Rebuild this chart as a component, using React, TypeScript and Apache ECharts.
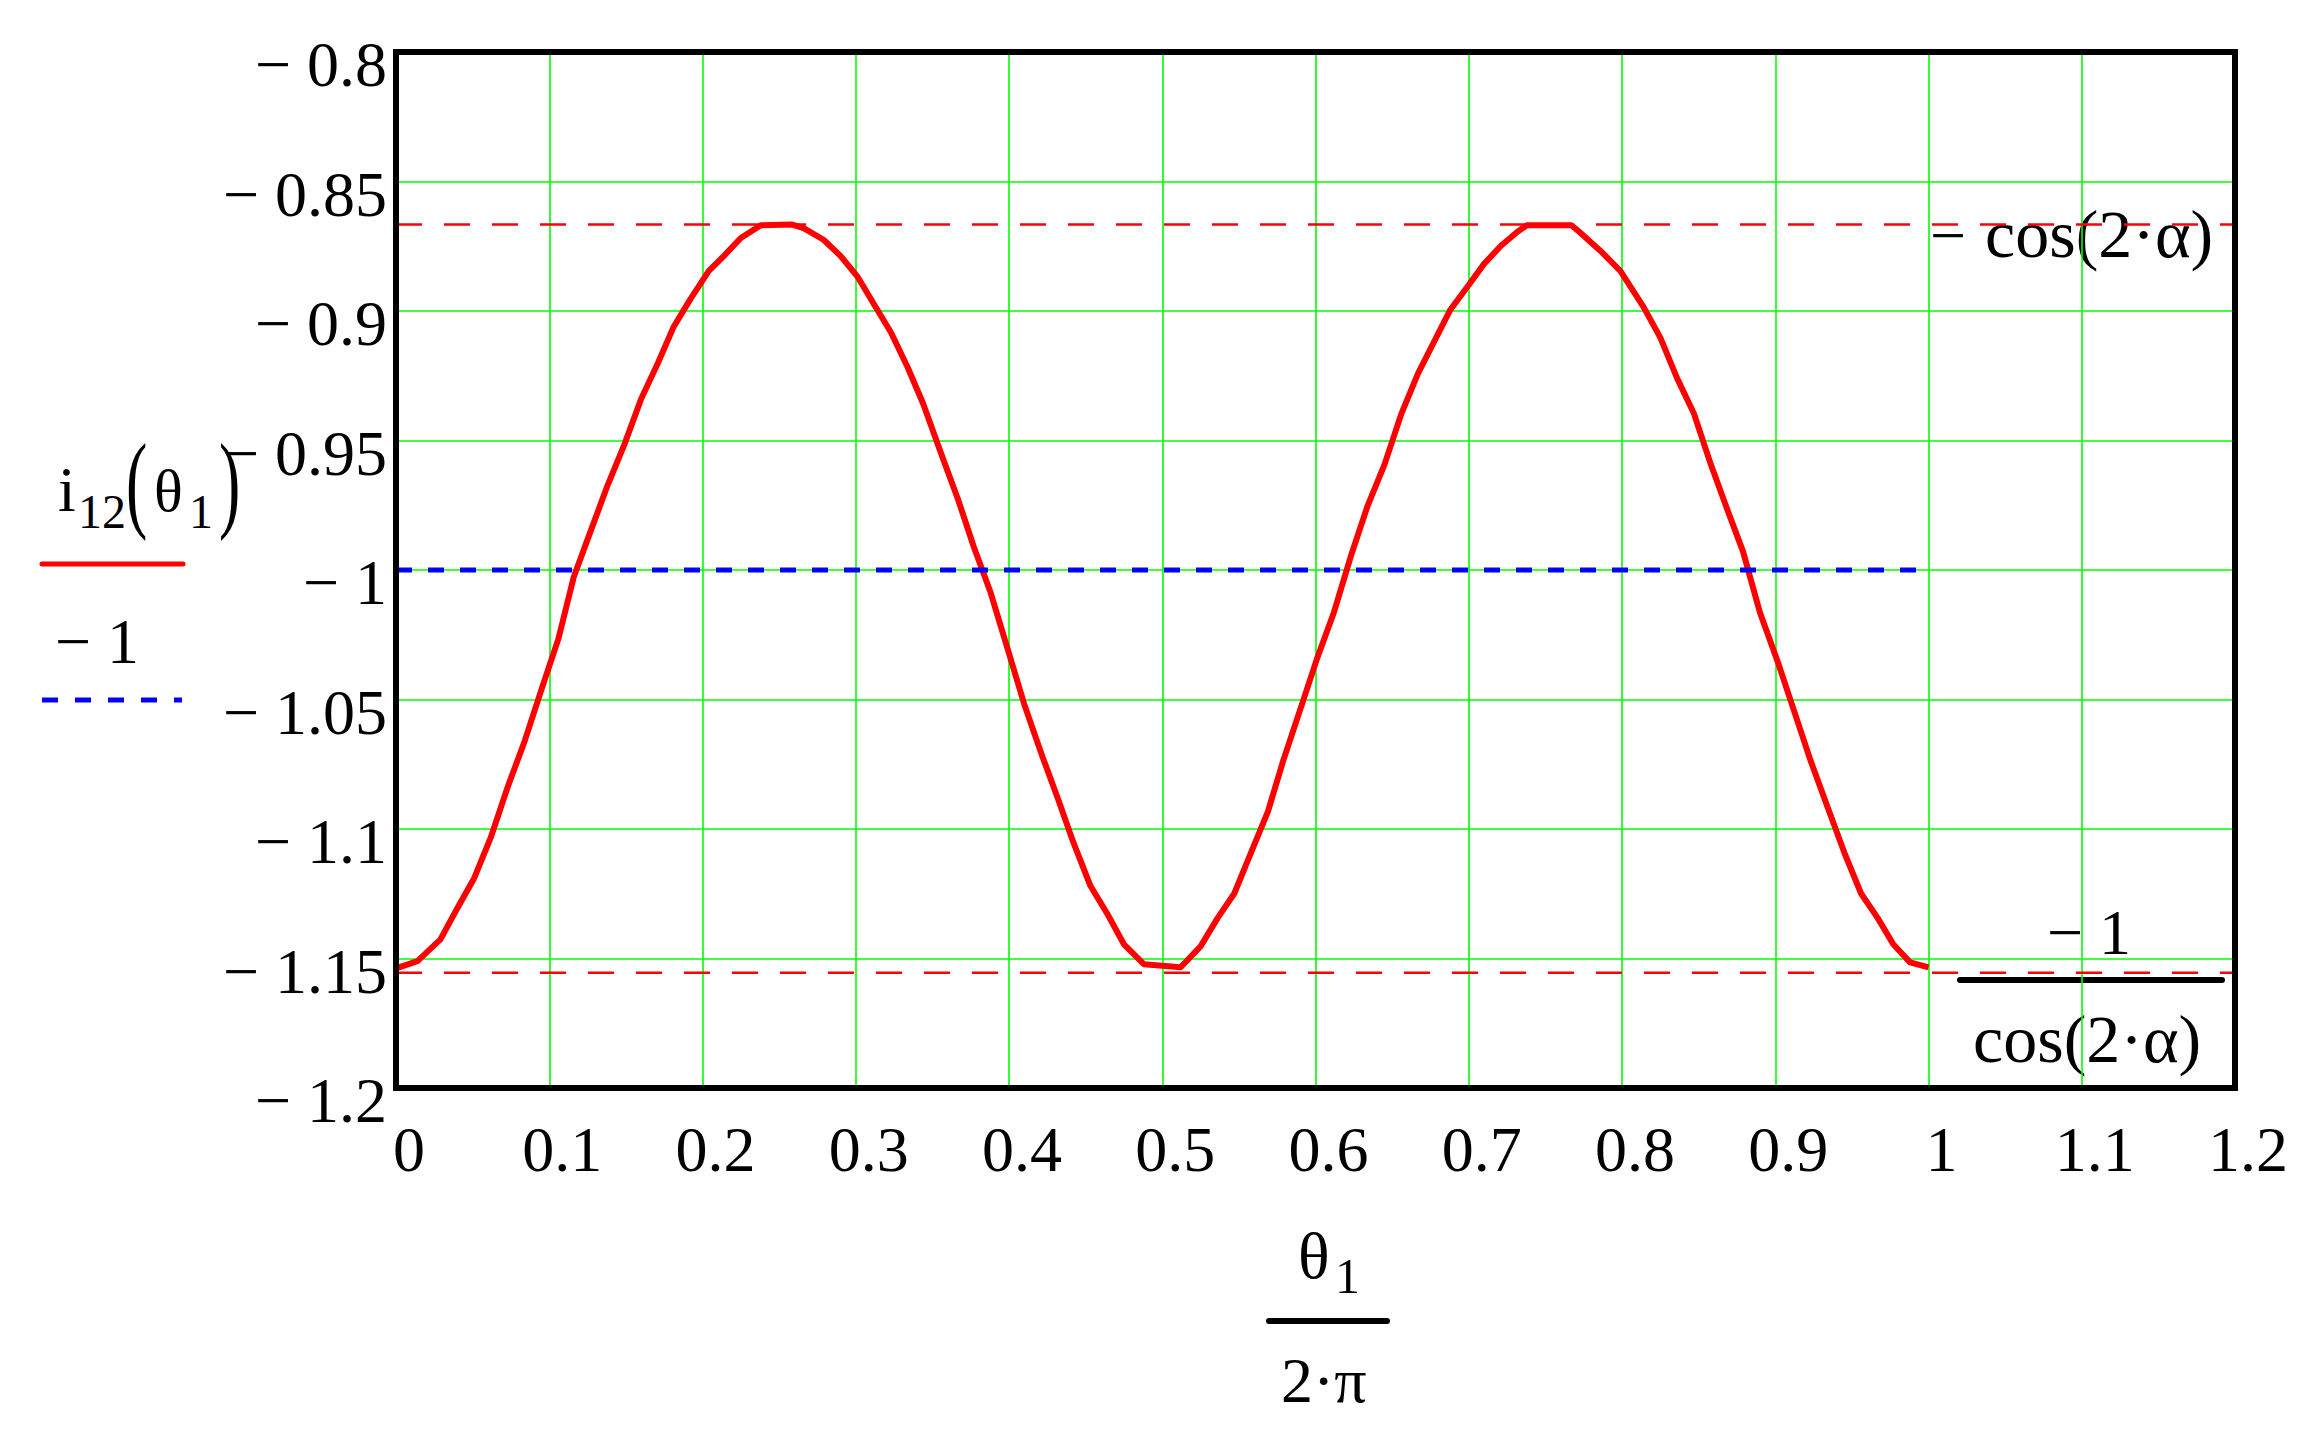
import React, { useEffect, useRef } from "react";
import * as echarts from "echarts";

// θ1 / 2π  (x values)
const thetaX = [
  0.0, 0.014, 0.029, 0.04, 0.051, 0.062, 0.073, 0.084, 0.095, 0.106, 0.116, 0.127, 0.138, 0.149,
  0.16, 0.171, 0.181, 0.192, 0.204, 0.214, 0.225, 0.238, 0.258, 0.266, 0.279, 0.29, 0.301, 0.312,
  0.323, 0.334, 0.344, 0.356, 0.367, 0.377, 0.388, 0.399, 0.41, 0.421, 0.432, 0.442, 0.453, 0.464,
  0.475, 0.488, 0.512, 0.525, 0.536, 0.547, 0.558, 0.569, 0.579, 0.59, 0.601, 0.612, 0.623, 0.634,
  0.645, 0.656, 0.667, 0.677, 0.688, 0.699, 0.71, 0.721, 0.732, 0.738, 0.767, 0.773, 0.786, 0.799,
  0.814, 0.825, 0.836, 0.847, 0.858, 0.869, 0.879, 0.89, 0.902, 0.912, 0.923, 0.934, 0.945, 0.956,
  0.967, 0.977, 0.988, 1.0,
];

// i12(θ1)
const i12Values = [
  -1.1538, -1.151, -1.1426, -1.1306, -1.119, -1.103, -1.0836, -1.066, -1.046, -1.0265, -1.0027,
  -0.985, -0.9674, -0.9516, -0.9339, -0.92, -0.9063, -0.8955, -0.8846, -0.8787, -0.8718, -0.8669,
  -0.8666, -0.868, -0.8725, -0.8787, -0.8866, -0.8975, -0.9083, -0.9219, -0.9358, -0.9555, -0.9732,
  -0.991, -1.0087, -1.0303, -1.0519, -1.0707, -1.0884, -1.1052, -1.1218, -1.1326, -1.1445, -1.1522,
  -1.1534, -1.1453, -1.1345, -1.1249, -1.109, -1.0932, -1.0735, -1.0539, -1.0342, -1.0164, -0.9948,
  -0.9752, -0.9593, -0.9397, -0.924, -0.9123, -0.8995, -0.8907, -0.8818, -0.8748, -0.8693, -0.8669,
  -0.8669, -0.8699, -0.8768, -0.8846, -0.8984, -0.9103, -0.926, -0.9397, -0.9593, -0.9771, -0.9929,
  -1.0164, -1.0361, -1.0539, -1.0735, -1.0913, -1.109, -1.1249, -1.1345, -1.1445, -1.1515, -1.1534,
];

// the constant trace "− 1"
const unityX = [0, 1];
const unityY = [-1, -1];

// bound traces −cos(2·α) and −1/cos(2·α)
const boundX = [0, 1.2];
const upperBound = [-0.8666, -0.8666];
const lowerBound = [-1.1555, -1.1555];

const xTickValues = [0, 0.1, 0.2, 0.3, 0.4, 0.5, 0.6, 0.7, 0.8, 0.9, 1, 1.1, 1.2];
const xTickLabels = ["0", "0.1", "0.2", "0.3", "0.4", "0.5", "0.6", "0.7", "0.8", "0.9", "1", "1.1", "1.2"];
const yTickValues = [-1.2, -1.15, -1.1, -1.05, -1, -0.95, -0.9, -0.85, -0.8];
const yTickLabels = [
  "\u2212 1.2", "\u2212 1.15", "\u2212 1.1", "\u2212 1.05", "\u2212 1",
  "\u2212 0.95", "\u2212 0.9", "\u2212 0.85", "\u2212 0.8",
];

const FONT = "'Liberation Serif', 'Times New Roman', serif";
const GRID = { left: 396, top: 52, width: 1839, height: 1036 };

function nearestLabel(values: number[], labels: string[], v: number) {
  let best = 0;
  for (let i = 1; i < values.length; i++) {
    if (Math.abs(values[i] - v) < Math.abs(values[best] - v)) best = i;
  }
  return labels[best];
}

function txt(text: string, x: number, baseline: number, size: number, extra: any = {}) {
  // place text by its alphabetic baseline (central baseline ≈ 0.3375em above it)
  return {
    type: "text",
    x,
    y: baseline - 0.3375 * size,
    silent: true,
    ...extra,
    style: {
      text,
      fill: "#000",
      fontSize: size,
      fontFamily: FONT,
      align: "left",
      verticalAlign: "middle",
      textAlign: "left",
      textVerticalAlign: "middle",
    },
  };
}

function paren(text: string, x: number, centerY: number) {
  return {
    type: "text",
    x,
    y: centerY,
    scaleY: 1.7,
    silent: true,
    style: {
      text,
      fill: "#000",
      fontSize: 64,
      fontFamily: FONT,
      align: "left",
      verticalAlign: "middle",
      textAlign: "left",
      textVerticalAlign: "middle",
    },
  };
}

function seg(x1: number, y1: number, x2: number, y2: number, color: string, w: number, dash?: number[]) {
  return {
    type: "line",
    silent: true,
    shape: { x1, y1, x2, y2 },
    style: { stroke: color, lineWidth: w, lineCap: dash ? "butt" : "round", lineDash: dash || null },
  };
}

export default function App() {
  const ref = useRef<HTMLDivElement>(null);

  useEffect(() => {
    if (!ref.current) return;
    const chart = echarts.init(ref.current, undefined, { renderer: "svg" });

    const curve = thetaX.map((x, i) => [x, i12Values[i]]);
    const unity = unityX.map((x, i) => [x, unityY[i]]);
    const upper = boundX.map((x, i) => [x, upperBound[i]]);
    const lower = boundX.map((x, i) => [x, lowerBound[i]]);

    const option: any = {
      animation: false,
      backgroundColor: "#ffffff",
      grid: { ...GRID, show: false, containLabel: false },
      xAxis: {
        type: "value",
        min: 0,
        max: 1.2,
        interval: 0.1,
        axisLine: { show: false },
        axisTick: { show: false },
        splitLine: { show: true, lineStyle: { color: "#00ff00", width: 1.6 } },
        axisLabel: {
          show: true,
          showMinLabel: true,
          showMaxLabel: true,
          color: "#000",
          fontFamily: FONT,
          fontSize: 64,
          lineHeight: 64,
          margin: 29,
          padding: [0, 0, 0, 26],
          formatter: (v: number) => nearestLabel(xTickValues, xTickLabels, v),
        },
      },
      yAxis: {
        type: "value",
        min: -1.2,
        max: -0.8,
        interval: 0.05,
        axisLine: { show: false },
        axisTick: { show: false },
        splitLine: { show: true, lineStyle: { color: "#00ff00", width: 1.6 } },
        axisLabel: {
          show: true,
          showMinLabel: true,
          showMaxLabel: true,
          color: "#000",
          fontFamily: FONT,
          fontSize: 64,
          lineHeight: 25,
          verticalAlign: "top",
          margin: 9,
          formatter: (v: number) => nearestLabel(yTickValues, yTickLabels, v),
        },
      },
      series: [
        {
          type: "line",
          data: curve,
          showSymbol: false,
          symbol: "none",
          lineStyle: { color: "#ff0000", width: 6, join: "round" },
          z: 3,
        },
        {
          type: "line",
          data: unity,
          showSymbol: false,
          symbol: "none",
          lineStyle: { color: "#0000ff", width: 5, type: [16, 16] },
          z: 4,
        },
        {
          type: "line",
          data: upper,
          showSymbol: false,
          symbol: "none",
          lineStyle: { color: "#ff0000", width: 2.5, type: [26, 22] },
          z: 5,
        },
        {
          type: "line",
          data: lower,
          showSymbol: false,
          symbol: "none",
          lineStyle: { color: "#ff0000", width: 2.5, type: [26, 22] },
          z: 5,
        },
      ],
      graphic: [
        // frame
        {
          type: "rect",
          silent: true,
          z: 100,
          shape: { x: GRID.left, y: GRID.top, width: GRID.width, height: GRID.height },
          style: { fill: "none", stroke: "#000", lineWidth: 6 },
        },
        // legend: i12(θ1)
        txt("i", 58, 511, 64),
        txt("12", 78, 528, 48),
        paren("(", 126, 481),
        txt("\u03b8", 154, 511, 60),
        txt("1", 189, 528, 48),
        paren(")", 219, 481),
        seg(42, 564, 183, 564, "#ff0000", 5),
        // legend: − 1
        txt("\u2212 1", 55, 663, 64),
        seg(42, 700, 182, 700, "#0000ff", 5, [16, 17]),
        // marker label − cos(2·α)
        txt("\u2212", 1930, 257, 64),
        txt("cos(2\u00b7\u03b1)", 1985, 257, 68),
        // marker label −1 / cos(2·α)
        txt("\u2212 1", 2047, 954, 64),
        seg(1960, 980, 2222, 980, "#000", 6),
        txt("cos(2\u00b7\u03b1)", 1973, 1062, 68),
        // x axis title θ1 / 2·π
        txt("\u03b8", 1298, 1278, 66),
        txt("1", 1335, 1293, 50),
        seg(1269, 1321, 1387, 1321, "#000", 6),
        txt("2\u00b7\u03c0", 1281, 1402, 64),
      ],
    };

    chart.setOption(option);
    return () => chart.dispose();
  }, []);

  return (
    <div
      ref={ref}
      style={{ position: "fixed", left: 0, top: 0, width: 2320, height: 1437, background: "#fff" }}
    />
  );
}
